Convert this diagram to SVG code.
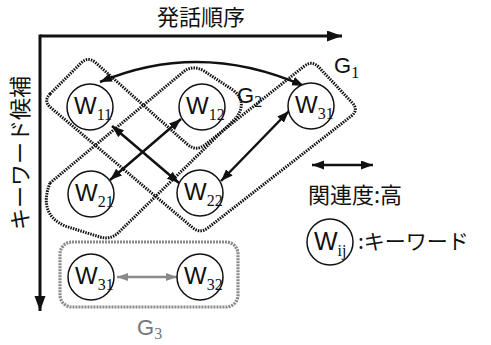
<svg xmlns="http://www.w3.org/2000/svg" width="491" height="345" viewBox="0 0 491 345">
<style>
.jp{font-family:"Noto Sans CJK JP","Noto Sans CJK SC",sans-serif;fill:#111}
.w{font-family:"Liberation Sans",Arial,sans-serif;font-size:24px;fill:#111}
.sub{font-family:"Liberation Serif","Times New Roman",serif;font-size:16px}
.node{fill:#fff;stroke:#111;stroke-width:1.5}
.grp{fill:none;stroke:#111;stroke-width:3;stroke-dasharray:1.5 1.1}
.grp3{fill:none;stroke:#8a8a8a;stroke-width:3.2;stroke-dasharray:2 1}
.con{fill:none;stroke:#111;stroke-width:2.5;marker-start:url(#ah);marker-end:url(#ah)}
.glab{font-family:"Liberation Sans",Arial,sans-serif;font-size:22px;fill:#111}
</style>
<defs>
<marker id="ah" markerUnits="userSpaceOnUse" markerWidth="13" markerHeight="10" refX="12" refY="4.5" orient="auto-start-reverse"><path d="M0,0 L12,4.5 L0,9 z" fill="#111"/></marker>
<marker id="ahg" markerUnits="userSpaceOnUse" markerWidth="12" markerHeight="9" refX="11" refY="4" orient="auto-start-reverse"><path d="M0,0 L11,4 L0,8 z" fill="#8a8a8a"/></marker>
<marker id="axh" markerUnits="userSpaceOnUse" markerWidth="16" markerHeight="12" refX="15" refY="5.5" orient="auto"><path d="M0,0 L15,5.5 L0,11 z" fill="#111"/></marker>
</defs>

<g id="axes">
<line x1="40" y1="36" x2="342" y2="36" stroke="#111" stroke-width="3" marker-end="url(#axh)"/>
<line x1="40" y1="34.5" x2="40" y2="311" stroke="#111" stroke-width="3" marker-end="url(#axh)"/>
<text class="jp" x="157" y="25" font-size="22">発話順序</text>
<text class="jp" font-size="22" text-anchor="middle" transform="translate(28,153) rotate(-90)">キーワード候補</text>
</g>

<g id="groups">
<g id="G1">
<path class="grp" d="M50.1,93.9 L80.9,63.1 Q88,56 95.5,62.6 L187,144 Q196,152 205.4,144.5 L304.2,66.2 Q312,60 318.9,67.3 L352.2,102.7 Q359,110 351.1,116.2 L207.9,227.9 Q200,234 192.4,227.5 L50.6,107.5 Q43,101 50.1,93.9 Z"/>
<text class="glab" x="334" y="73">G<tspan class="sub" dy="5">1</tspan></text>
</g>
<g id="G2">
<path class="grp" d="M50,183 L182,73 Q192,64 204,71 L233,90 Q248,102 236,118 L118,233 Q110,240 100,237 L65,226 Q38,214 50,183 Z"/>
<text class="glab" x="237" y="103">G<tspan class="sub" dy="4">2</tspan></text>
</g>
<g id="G3">
<rect class="grp3" x="60" y="242" width="178" height="65" rx="12"/>
<text class="glab" x="137" y="335" style="fill:#777">G<tspan class="sub" dy="4">3</tspan></text>
</g>
</g>

<g id="connectors">
<path class="con" d="M100,82 Q200,40 304,86"/>
<line class="con" x1="112" y1="126" x2="179" y2="183"/>
<line class="con" x1="181" y1="119" x2="110" y2="180"/>
<line class="con" x1="221" y1="181" x2="289" y2="111"/>
<line x1="117" y1="277" x2="177" y2="277" stroke="#8a8a8a" stroke-width="2.5" marker-start="url(#ahg)" marker-end="url(#ahg)"/>
</g>

<g id="W11"><circle class="node" cx="90" cy="107" r="23"/><text class="w" x="74" y="114">W<tspan class="sub" dy="6">11</tspan></text></g>
<g id="W12"><circle class="node" cx="202" cy="107" r="23"/><text class="w" x="186" y="114">W<tspan class="sub" dy="6">12</tspan></text></g>
<g id="W31top"><circle class="node" cx="311" cy="106" r="23"/><text class="w" x="295" y="113">W<tspan class="sub" dy="6">31</tspan></text></g>
<g id="W21"><circle class="node" cx="91" cy="194" r="23"/><text class="w" x="75" y="201">W<tspan class="sub" dy="6">21</tspan></text></g>
<g id="W22"><circle class="node" cx="200" cy="193" r="23"/><text class="w" x="184" y="200">W<tspan class="sub" dy="6">22</tspan></text></g>
<g id="W31"><circle class="node" cx="91" cy="277" r="23"/><text class="w" x="75" y="284">W<tspan class="sub" dy="6">31</tspan></text></g>
<g id="W32"><circle class="node" cx="200" cy="277" r="23"/><text class="w" x="184" y="284">W<tspan class="sub" dy="6">32</tspan></text></g>

<g id="legend">
<line class="con" x1="312" y1="165" x2="373" y2="165"/>
<text class="jp" x="308" y="203" font-size="22">関連度:高</text>
<circle class="node" cx="330" cy="242" r="23"/>
<text class="w" x="314" y="250" style="font-size:25px">W<tspan class="sub" dy="6">ij</tspan></text>
<text class="jp" x="358" y="249" font-size="21">:キーワード</text>
</g>
</svg>
